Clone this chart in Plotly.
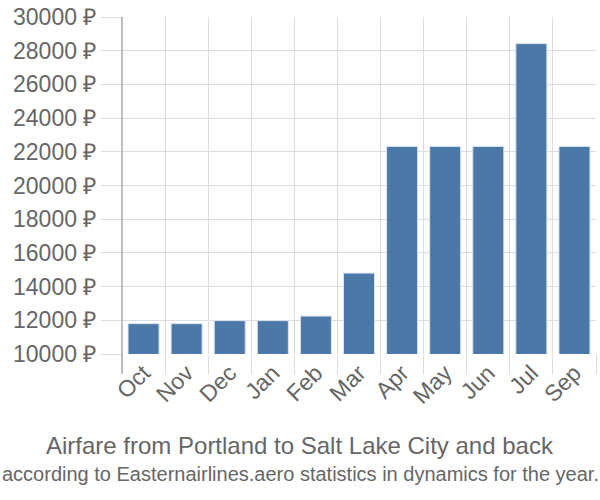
import plotly.graph_objects as go

months = ["Oct", "Nov", "Dec", "Jan", "Feb", "Mar", "Apr", "May", "Jun", "Jul", "Sep"]
prices = [11800, 11800, 11980, 11980, 12250, 14800, 22320, 22320, 22320, 28420, 22320]
y_ticks = list(range(10000, 30001, 2000))
y_labels = [f"{v} ₽" for v in y_ticks]

fig = go.Figure(go.Bar(
    x=months, y=prices,
    marker=dict(color="#4c78a8", line=dict(color="#dbe4ee", width=1)),
    width=0.72,
))

plot_top, plot_bottom_margin = 14, 146
plot_h = 500 - plot_top - plot_bottom_margin
plot_left, plot_w = 122, 600 - 122 - 4


def py(pix):
    return (plot_top + plot_h - pix) / plot_h


def px(pix):
    return (pix - plot_left) / plot_w


fig.update_layout(
    width=600, height=500,
    margin=dict(l=plot_left, r=4, t=plot_top, b=plot_bottom_margin),
    paper_bgcolor="white", plot_bgcolor="white",
    font=dict(family="Liberation Sans, Arial, sans-serif", color="#666666"),
    showlegend=False,
    xaxis=dict(
        type="category", tickson="boundaries",
        showgrid=True, gridcolor="#dddddd", gridwidth=1,
        ticks="outside", ticklen=19, tickcolor="#dddddd",
        tickangle=-45, tickfont=dict(size=23, color="#666666"),
        showline=False, zeroline=False,
    ),
    yaxis=dict(
        range=[10000, 30000], tickvals=y_ticks, ticktext=y_labels,
        showgrid=True, gridcolor="#dddddd", gridwidth=1,
        ticks="outside", ticklen=20, tickcolor="#dddddd",
        tickfont=dict(size=23, color="#666666"),
        showline=False, zeroline=False,
    ),
    shapes=[
        dict(type="line", xref="paper", yref="paper", x0=0, x1=0,
             y0=py(374), y1=1, line=dict(color="#aaaaaa", width=1.5)),
    ],
    annotations=[
        dict(text="Airfare from Portland to Salt Lake City and back",
             x=px(300), y=py(446), xref="paper", yref="paper", showarrow=False,
             yanchor="middle", font=dict(size=24, color="#666666")),
        dict(text="according to Easternairlines.aero statistics in dynamics for the year.",
             x=px(300), y=py(475), xref="paper", yref="paper", showarrow=False,
             yanchor="middle", font=dict(size=20, color="#666666")),
    ],
)

fig.write_html("out.html")
